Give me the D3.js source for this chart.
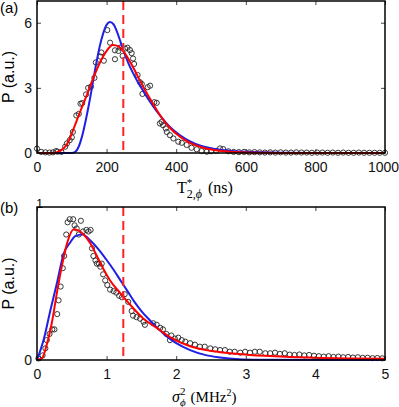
<!DOCTYPE html>
<html>
<head>
<meta charset="utf-8">
<script src="https://cdn.jsdelivr.net/npm/d3@7"></script>
<style>
  body { margin: 0; background: #fff; }
  text { font-family: "Liberation Sans", Arial, sans-serif; }
  .serif { font-family: "Liberation Serif", "DejaVu Serif", serif; }
</style>
</head>
<body>
<svg width="399" height="407"></svg>
<script>
// ---------- panel (a) : T2* distribution ----------
var aTicksX = [0, 200, 400, 600, 800, 1000];
var aTicksY = [0, 3, 6];
var aDashX = 248;

// measured histogram points [T (ns), P]
var aPoints = [[0,0.2],[12,0.05],[24,0.03],[36,0.02],[46,0.03],[55,0.09],[59,0.06],[70,0.05],
  [81,0.29],[86,0.44],[94,0.59],[100,0.72],[103,0.97],[113,1.73],[120,1.8],[125,2.27],
  [130,2.3],[141,2.7],[147,3.0],[155,3.05],[165,3.46],[169,4.17],[182,4.44],[185,4.63],
  [192,4.25],[202,5.66],[210,5.08],[224,4.73],[224,4.32],[234,4.7],[239,4.85],[246,4.47],
  [253,4.81],[260,4.85],[267,4.74],[272,4.6],[276,4.35],[279,4.1],[289,3.59],[296,3.26],
  [301,3.18],[303,2.72],[318,3.03],[325,3.1],[337,2.34],[344,2.31],[353,1.36],[358,1.43],
  [362,1.28],[370,1.13],[373,0.97],[382,0.82],[392,0.67],[406,0.52],[416,0.47],[430,0.37],
  [444,0.24],[459,0.17],[473,0.09],[488,0.06],[500,0.08],[515,0.1],[526,0.21],[535,0.18],
  [550,0.08],[565,0.05],[580,0.04],[595,0.05],[610,0.03],[625,0.04],[640,0.03],[655,0.02],
  [670,0.03],[685,0.02],[700,0.03],[715,0.02],[730,0.02],[745,0.03],[760,0.02],[775,0.02],
  [790,0.01],[805,0.02],[820,0.02],[835,0.01],[850,0.02],[865,0.01],[880,0.02],[895,0.01],
  [910,0.01],[925,0.02],[940,0.01],[955,0.01],[970,0.01],[985,0.01],[1000,0.01]];

// fit curves [T (ns), P]
var aBlue = [[0,0],[100,0],[110,0.05],[120,0.3],[130,0.8],[140,1.5],[150,2.3],[160,3.2],
  [170,4.1],[180,4.9],[190,5.5],[200,5.9],[210,6.03],[220,5.92],[230,5.58],[240,5.12],
  [250,4.65],[263,4.12],[276,3.68],[290,3.26],[305,2.86],[320,2.48],[334,2.15],[350,1.8],
  [365,1.5],[382,1.2],[411,0.82],[440,0.54],[468,0.35],[497,0.23],[526,0.15],[560,0.095],
  [600,0.055],[650,0.03],[700,0.015],[800,0.005],[1000,0]];
var aRed = [[0,0],[45,0],[60,0.05],[75,0.2],[86,0.4],[100,0.9],[112,1.4],[124,1.9],
  [144,2.7],[163,3.5],[182,4.2],[200,4.7],[218,4.97],[235,4.9],[250,4.65],[276,3.95],
  [305,3.05],[334,2.25],[353,1.75],[382,1.15],[411,0.75],[440,0.46],[468,0.29],[497,0.17],
  [526,0.1],[583,0.03],[650,0.01],[700,0],[1000,0]];

// ---------- panel (b) : sigma^2 distribution ----------
var bTicksX = [0, 1, 2, 3, 4, 5];
var bTicksY = [0];
var bDashX = 1.24;

var bPoints = [[0.02,0.01],[0.08,0.03],[0.12,0.076],[0.14,0.13],[0.18,0.17],[0.22,0.2],
  [0.25,0.2],[0.29,0.3],[0.31,0.39],[0.34,0.48],[0.37,0.6],[0.39,0.68],[0.42,0.82],
  [0.44,0.9],[0.47,0.92],[0.52,0.92],[0.54,0.88],[0.57,0.86],[0.6,0.82],[0.63,0.91],
  [0.66,0.84],[0.71,0.85],[0.74,0.84],[0.77,0.85],[0.79,0.73],[0.81,0.68],[0.84,0.65],
  [0.86,0.63],[0.89,0.63],[0.91,0.61],[0.93,0.63],[0.95,0.56],[0.98,0.52],[1.01,0.49],
  [1.05,0.46],[1.1,0.45],[1.14,0.44],[1.18,0.42],[1.22,0.41],[1.26,0.43],[1.31,0.38],
  [1.36,0.32],[1.38,0.29],[1.43,0.28],[1.48,0.27],[1.53,0.25],[1.55,0.23],[1.67,0.24],
  [1.72,0.23],[1.77,0.21],[1.81,0.2],[1.86,0.17],[1.91,0.13],[1.93,0.16],[1.98,0.14],
  [2.03,0.146],[2.08,0.13],[2.13,0.12],[2.2,0.11],[2.27,0.1],[2.34,0.087],[2.41,0.087],
  [2.49,0.076],[2.56,0.07],[2.63,0.065],[2.7,0.065],[2.77,0.054],[2.84,0.054],[2.92,0.048],
  [2.99,0.054],[3.06,0.048],[3.13,0.054],[3.2,0.054],[3.28,0.044],[3.35,0.044],[3.42,0.048],
  [3.49,0.04],[3.56,0.044],[3.63,0.035],[3.7,0.033],[3.77,0.036],[3.84,0.03],[3.91,0.033],
  [3.98,0.028],[4.05,0.025],[4.12,0.022],[4.19,0.025],[4.26,0.02],[4.33,0.022],[4.4,0.018],
  [4.47,0.02],[4.54,0.016],[4.61,0.018],[4.68,0.014],[4.75,0.015],[4.82,0.012],[4.89,0.013],
  [4.96,0.011]];

var bBlue = [[0,0],[0.1,0.14],[0.19,0.32],[0.29,0.51],[0.38,0.69],[0.48,0.77],[0.55,0.81],
  [0.65,0.82],[0.77,0.78],[0.89,0.72],[0.99,0.66],[1.1,0.59],[1.2,0.52],[1.3,0.45],
  [1.4,0.38],[1.5,0.32],[1.62,0.26],[1.75,0.2],[1.86,0.155],[2.0,0.11],[2.2,0.065],
  [2.4,0.035],[2.6,0.018],[2.8,0.008],[3.1,0.002],[5,0]];
var bRed = [[0,0],[0.07,0.01],[0.14,0.1],[0.216,0.25],[0.29,0.45],[0.36,0.62],[0.43,0.76],
  [0.53,0.855],[0.6,0.845],[0.67,0.82],[0.77,0.76],[0.86,0.68],[0.96,0.59],[1.05,0.52],
  [1.19,0.44],[1.34,0.36],[1.53,0.27],[1.72,0.21],[1.91,0.15],[2.2,0.09],[2.49,0.06],
  [2.77,0.044],[3.06,0.033],[3.35,0.026],[3.64,0.02],[4.0,0.014],[4.5,0.01],[5,0.008]];

var svg = d3.select("svg");

function panel(cfg) {
  var x = d3.scaleLinear().domain(cfg.xDomain).range([37, 385]);
  var y = d3.scaleLinear().domain(cfg.yDomain).range([cfg.bottom, cfg.top]);
  var g = svg.append("g");

  // data circles
  g.selectAll("circle").data(cfg.points).enter().append("circle")
    .attr("cx", d => x(d[0])).attr("cy", d => y(d[1])).attr("r", 2.6)
    .attr("fill", "none").attr("stroke", "#222").attr("stroke-width", 0.9);

  var line = d3.line().x(d => x(d[0])).y(d => y(d[1])).curve(d3.curveMonotoneX);
  g.append("path").attr("d", line(cfg.blue)).attr("fill", "none")
    .attr("stroke", "#1f1fe6").attr("stroke-width", 2);
  g.append("path").attr("d", line(cfg.red)).attr("fill", "none")
    .attr("stroke", "#f00").attr("stroke-width", 2);

  // dashed reference line
  g.append("line").attr("x1", x(cfg.dash)).attr("x2", x(cfg.dash))
    .attr("y1", cfg.top).attr("y2", cfg.bottom)
    .attr("stroke", "#f22").attr("stroke-width", 2).attr("stroke-dasharray", "9,5");

  // axes with inner ticks on all four sides
  var fmt = d3.format("~g");
  g.append("g").attr("transform", "translate(0," + cfg.bottom + ")")
    .call(d3.axisBottom(x).tickValues(cfg.xTicks).tickFormat(fmt).tickSizeInner(-4).tickSizeOuter(0).tickPadding(9))
    .call(a => a.select(".domain").remove());
  g.append("g").attr("transform", "translate(0," + cfg.top + ")")
    .call(d3.axisTop(x).tickValues(cfg.xTicks).tickSizeInner(-4).tickSizeOuter(0).tickFormat(""))
    .call(a => a.select(".domain").remove());
  g.append("g").attr("transform", "translate(37,0)")
    .call(d3.axisLeft(y).tickValues(cfg.yTicks).tickFormat(fmt).tickSizeInner(-4).tickSizeOuter(0).tickPadding(5))
    .call(a => a.select(".domain").remove());
  g.append("g").attr("transform", "translate(385,0)")
    .call(d3.axisRight(y).tickValues(cfg.yTicks).tickSizeInner(-4).tickSizeOuter(0).tickFormat(""))
    .call(a => a.select(".domain").remove());
  g.selectAll(".tick line").attr("stroke", "#444").attr("stroke-width", 1);
  g.selectAll(".tick text").attr("font-size", 14).attr("fill", "#111")
    .attr("font-family", "Liberation Sans, Arial, sans-serif");
  // keep the last x label inside the window
  g.selectAll(".tick text").filter(d => d === 1000).attr("dx", -2);

  g.append("rect").attr("x", 37).attr("y", cfg.top)
    .attr("width", 348).attr("height", cfg.bottom - cfg.top)
    .attr("fill", "none").attr("stroke", "#000").attr("stroke-width", 1.5);

  // y label
  g.append("text").attr("transform", "translate(14," + ((cfg.top + cfg.bottom) / 2) + ") rotate(-90)")
    .attr("text-anchor", "middle").attr("font-size", 16).text("P (a.u.)");
  return {x: x, y: y, g: g};
}

var pa = panel({xDomain: [0, 1000], yDomain: [0, 7], top: 1, bottom: 153,
  points: aPoints, blue: aBlue, red: aRed, dash: aDashX, xTicks: aTicksX, yTicks: aTicksY});
var pb = panel({xDomain: [0, 5], yDomain: [0, 1], top: 207, bottom: 360,
  points: bPoints, blue: bBlue, red: bRed, dash: bDashX, xTicks: bTicksX, yTicks: bTicksY});

// the "1" label of panel (b) sits at the top corner
svg.append("text").attr("x", 43).attr("y", 208).attr("text-anchor", "end")
  .attr("font-size", 12).text("1");

// panel letters
svg.append("text").attr("x", 0).attr("y", 13).attr("font-size", 15).text("(a)");
svg.append("text").attr("x", 0).attr("y", 213).attr("font-size", 15).text("(b)");

// x labels (math style, serif)
var la = svg.append("text").attr("class", "serif").attr("x", 177).attr("y", 193).attr("font-size", 16);
la.append("tspan").text("T");
la.append("tspan").attr("font-size", 11).attr("dy", -7).text("*");
la.append("tspan").attr("font-size", 12).attr("dx", -5.5).attr("dy", 12).text("2,");
la.append("tspan").attr("font-size", 12).attr("font-style", "italic").text("\u03d5");
la.append("tspan").attr("dy", -5).attr("dx", 6).text("(ns)");

var lb = svg.append("text").attr("class", "serif").attr("x", 172).attr("y", 402).attr("font-size", 15);
lb.append("tspan").attr("font-style", "italic").attr("font-size", 16).text("\u03c3");
lb.append("tspan").attr("font-size", 11).attr("dy", -7).text("2");
lb.append("tspan").attr("font-size", 11).attr("font-style", "italic").attr("dx", -5.5).attr("dy", 11).text("\u03d5");
lb.append("tspan").attr("dy", -4).attr("dx", 5).text("(MHz");
lb.append("tspan").attr("font-size", 10).attr("dy", -6).text("2");
lb.append("tspan").attr("dy", 6).text(")");
</script>
</body>
</html>
